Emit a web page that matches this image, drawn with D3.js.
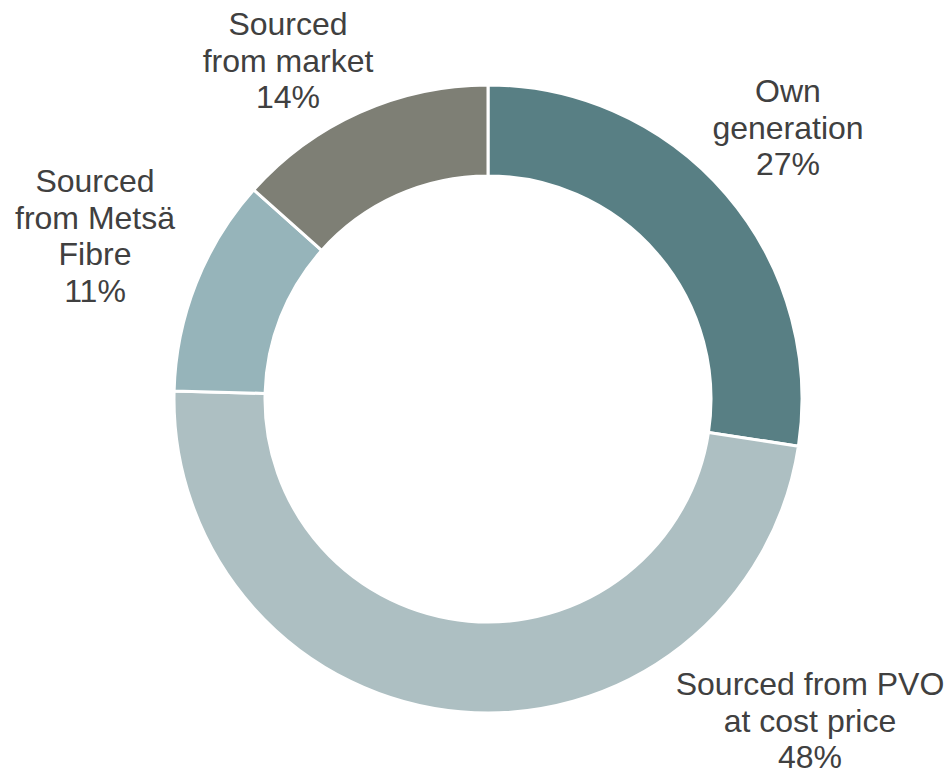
<!DOCTYPE html>
<html>
<head>
<meta charset="utf-8">
<script src="https://cdn.jsdelivr.net/npm/d3@7"></script>
<style>
  body { margin: 0; background: #fff; }
  text { font-family: "Liberation Sans", Arial, sans-serif; fill: #404040; }
</style>
</head>
<body>
<svg id="chart" width="949" height="775"></svg>
<script>
// data
const categories = ["Own generation", "Sourced from PVO at cost price", "Sourced from Metsä Fibre", "Sourced from market"];
const shares = [27.4, 48.0, 11.2, 13.4];
const shareLabels = ["27%", "48%", "11%", "14%"];
const labelLines = [
  ["Own", "generation"],
  ["Sourced from PVO", "at cost price"],
  ["Sourced", "from Metsä", "Fibre"],
  ["Sourced", "from market"]
];
const colors = ["#587f84", "#adbfc2", "#96b4ba", "#7e7f75"];

// layout
const width = 949, height = 775;
const cx = 488, cy = 399;
const outerR = 314, innerR = 223;
const lineH = 36.7;
// first baseline of each label block (placed by hand like the original)
const labelAnchor = [[788, 102], [810, 695], [95, 192], [288, 35]];

const svg = d3.select("#chart");
const g = svg.append("g").attr("transform", `translate(${cx},${cy})`);

const pie = d3.pie().sort(null).value(d => d);
const arc = d3.arc().innerRadius(innerR).outerRadius(outerR);

g.selectAll("path")
  .data(pie(shares))
  .enter().append("path")
  .attr("d", arc)
  .attr("fill", (d, i) => colors[i])
  .attr("stroke", "#fff")
  .attr("stroke-width", 3)
  .attr("stroke-linejoin", "miter");

const labels = svg.append("g").selectAll("text")
  .data(categories)
  .enter().append("text")
  .attr("text-anchor", "middle")
  .attr("font-size", "32px");

labels.each(function(d, i) {
  const lines = labelLines[i].concat([shareLabels[i]]);
  const t = d3.select(this);
  lines.forEach((ln, k) => {
    t.append("tspan")
      .attr("x", labelAnchor[i][0])
      .attr("y", labelAnchor[i][1] + k * lineH)
      .text(ln);
  });
});
</script>
</body>
</html>
